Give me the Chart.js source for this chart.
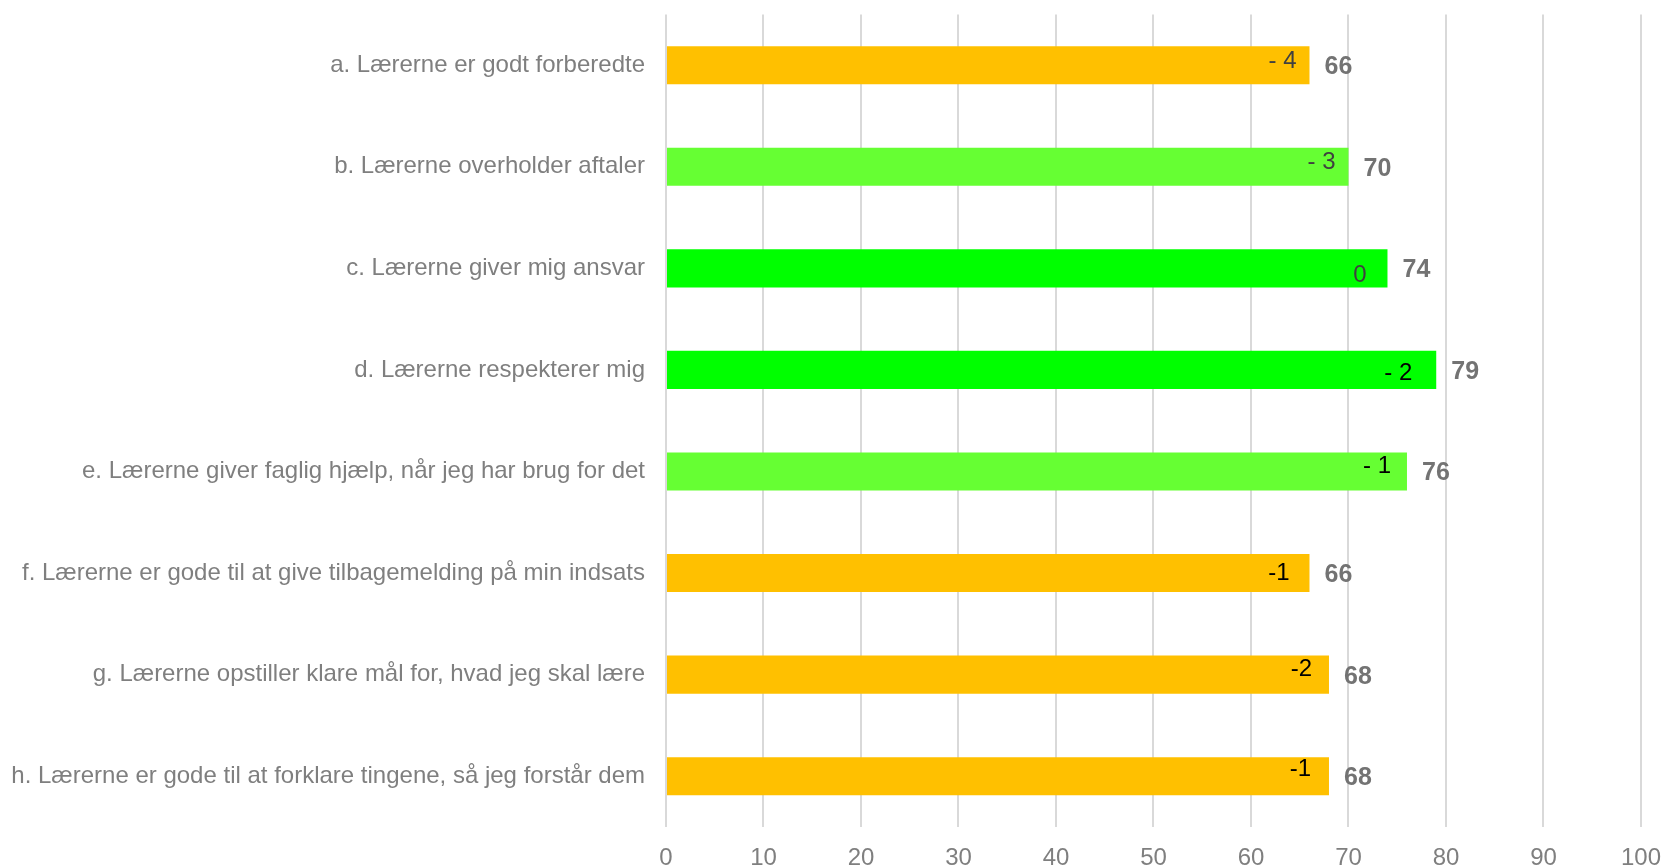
<!DOCTYPE html>
<html>
<head>
<meta charset="utf-8">
<script src="https://cdn.jsdelivr.net/npm/chart.js@4"></script>
<style>
  html, body { margin: 0; padding: 0; background: #fff; }
  #wrap { width: 1661px; height: 865px; }
</style>
</head>
<body>
<div id="wrap"><canvas id="myChart" width="1661" height="865"></canvas></div>
<script>
const categories = [
  "a. Lærerne er godt forberedte",
  "b. Lærerne overholder aftaler",
  "c. Lærerne giver mig ansvar",
  "d. Lærerne respekterer mig",
  "e. Lærerne giver faglig hjælp, når jeg har brug for det",
  "f. Lærerne er gode til at give tilbagemelding på min indsats",
  "g. Lærerne opstiller klare mål for, hvad jeg skal lære",
  "h. Lærerne er gode til at forklare tingene, så jeg forstår dem"
];
const scores = [66, 70, 74, 79, 76, 66, 68, 68];
const changes = ["- 4", "- 3", "0", "- 2", "- 1", "-1", "-2", "-1"];
const barColors = ["#FFC000", "#66FF33", "#00FF00", "#00FF00", "#66FF33", "#FFC000", "#FFC000", "#FFC000"];
const changeColors = ["#404040", "#404040", "#404040", "#000000", "#000000", "#000000", "#000000", "#000000"];
// small nudges of the change labels inside the bars (px)
const changeDx = [13, 13, 21, 24, 16, 20, 17, 18];
const changeDy = [-4, -4, 7, 3, -5, 0, -5, -7];

const font = '"Liberation Sans", Arial, sans-serif';

const barLabels = {
  id: 'barLabels',
  afterDatasetsDraw(chart) {
    const ctx = chart.ctx;
    const meta = chart.getDatasetMeta(0);
    ctx.save();
    meta.data.forEach((bar, i) => {
      ctx.textBaseline = 'middle';
      ctx.font = 'bold 25px ' + font;
      ctx.fillStyle = '#737373';
      ctx.textAlign = 'left';
      ctx.fillText(scores[i], bar.x + 15, bar.y + 2);
      ctx.font = '24px ' + font;
      ctx.fillStyle = changeColors[i];
      ctx.textAlign = 'right';
      ctx.fillText(changes[i], bar.x - changeDx[i], bar.y + changeDy[i]);
    });
    ctx.restore();
  }
};

let mainChart = new Chart(document.getElementById("myChart").getContext('2d'), {
  type: 'bar',
  data: {
    labels: categories,
    datasets: [{
      data: scores,
      backgroundColor: barColors,
      barPercentage: 0.75,
      categoryPercentage: 0.5
    }]
  },
  options: {
    indexAxis: 'y',
    responsive: false,
    animation: false,
    layout: { padding: 0 },
    plugins: { legend: { display: false }, tooltip: { enabled: false } },
    scales: {
      x: {
        min: 0, max: 100,
        ticks: { stepSize: 10, color: '#7f7f7f', padding: 0, font: { family: font, size: 24 } },
        grid: { color: '#d9d9d9', lineWidth: 2, drawTicks: true, tickLength: 17, tickColor: 'rgba(0,0,0,0)' },
        border: { display: false },
        afterFit(scale) { scale.height = 38; }
      },
      y: {
        ticks: { color: '#7f7f7f', padding: 0, font: { family: font, size: 24 } },
        grid: { display: true, drawOnChartArea: false, drawTicks: true, tickLength: 21, tickColor: 'rgba(0,0,0,0)' },
        border: { display: false },
        afterFit(scale) { scale.width = 666; }
      }
    }
  },
  plugins: [barLabels]
});
</script>
</body>
</html>
